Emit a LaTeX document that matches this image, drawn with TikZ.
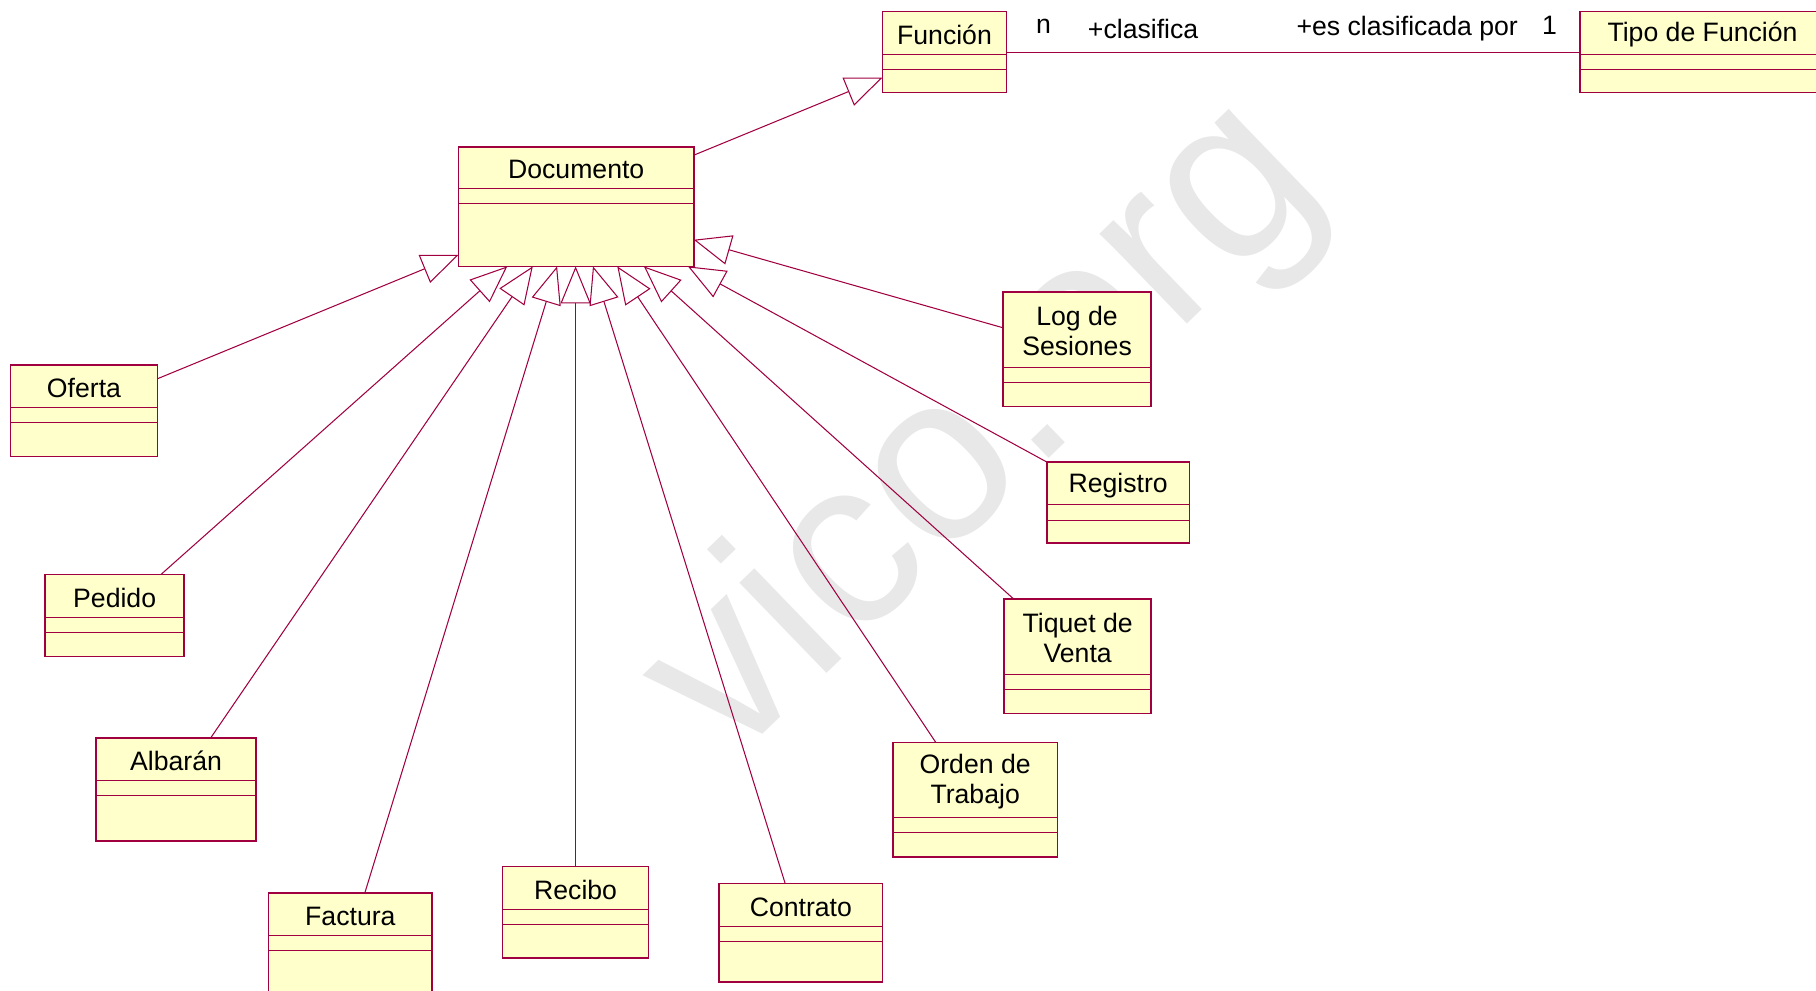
\documentclass[tikz,border=0pt]{standalone}
\usepackage{fontspec}
\setmainfont{Liberation Sans}
\usetikzlibrary{arrows.meta,calc}
\definecolor{umlred}{RGB}{160,0,64}
\definecolor{umlfill}{RGB}{255,255,204}
\tikzset{
 cls/.style={draw=umlred, fill=umlfill, line width=1.3pt, rectangle, inner sep=0pt, outer sep=0pt},
 clsline/.style={draw=umlred, line width=0.9pt},
 clstext/.style={font=\fontsize{23}{26}\selectfont, align=center, inner sep=0pt, text=black},
 gen/.style={draw=umlred, line width=0.9pt, -{Triangle[open, length=32pt, width=26pt, line width=0.9pt]}},
 assoc/.style={draw=umlred, line width=0.9pt},
 lbl/.style={font=\fontsize{23}{26}\selectfont, inner sep=0pt, text=black},
}
\newcommand\umlbox[7]{%
 \node[cls, minimum width=#4pt, minimum height=#5pt, anchor=north west] (#1) at (#2,#3) {};
 \draw[clsline] ([yshift=-#6pt]#1.north west) -- ([yshift=-#6pt]#1.north east);
 \draw[clsline] ([yshift=-#6pt-13pt]#1.north west) -- ([yshift=-#6pt-13pt]#1.north east);
 \node[clstext] (#1-name) at ([yshift=-#6pt/2-1.5pt]#1.north) {#7};
}
\begin{document}
\begin{tikzpicture}[x={(1pt,0pt)}, y={(0pt,-1pt)}]
\useasboundingbox (0,0) rectangle (1568,855);
\clip (0,0) rectangle (1568,855);
\node[font=\fontsize{205}{205}\selectfont, text=black!9, rotate=44, anchor=base west, inner sep=0pt] (wm) at (630,662) {vico.org};

\umlbox{fun}{762}{10}{107}{70}{37}{Función}
\umlbox{tipo}{1364}{10}{212}{70}{37}{Tipo de Función}
\umlbox{doc}{396}{127}{203}{103}{36}{Documento}
\umlbox{ofe}{9}{315}{127}{79}{37}{Oferta}
\umlbox{ped}{39}{496}{120}{71}{37}{Pedido}
\umlbox{alb}{83}{637}{138}{89}{37}{Albarán}
\umlbox{fac}{232}{771}{141}{100}{37}{Factura}
\umlbox{rec}{434}{748}{126}{79}{37}{Recibo}
\umlbox{con}{621}{763}{141}{85}{37}{Contrato}
\umlbox{ord}{771}{641}{142}{99}{65}{Orden de\\Trabajo}
\umlbox{tiq}{867}{517}{127}{99}{65}{Tiquet de\\Venta}
\umlbox{reg}{904}{399}{123}{70}{37}{Registro}
\umlbox{log}{866}{252}{128}{99}{65}{Log de\\Sesiones}

\draw[gen] ([yshift=-12pt]ofe.north east) -- ([yshift=10pt]doc.south west);
\draw[gen] ([xshift=100pt]ped.north west) -- ([xshift=42pt]doc.south west);
\draw[gen] ([xshift=99pt]alb.north west) -- ([xshift=64pt]doc.south west);
\draw[gen] ([xshift=83pt]fac.north west) -- ([xshift=85pt]doc.south west);
\draw[gen] (rec.north) -- ([xshift=101pt]doc.south west);
\draw[gen] ([xshift=57pt]con.north west) -- ([xshift=116pt]doc.south west);
\draw[gen] ([xshift=37pt]ord.north west) -- ([xshift=137pt]doc.south west);
\draw[gen] ([xshift=8pt]tiq.north west) -- ([xshift=160pt]doc.south west);
\draw[gen] (reg.north west) -- ([xshift=198pt]doc.south west);
\draw[gen] ([yshift=-31pt]log.north west) -- ([yshift=23pt]doc.south east);
\draw[gen] ([yshift=-7pt]doc.north east) -- ([yshift=-57pt]fun.north west);

\draw[assoc] (fun.east) -- (tipo.west);
\node[lbl] (ln) at (901,23) {n};
\node[lbl] (lcl) at (987,25) {+clasifica};
\node[lbl] (les) at (1215,25) {+es clasificada por};
\node[lbl] (l1) at (1338,22) {1};
\end{tikzpicture}
\end{document}
